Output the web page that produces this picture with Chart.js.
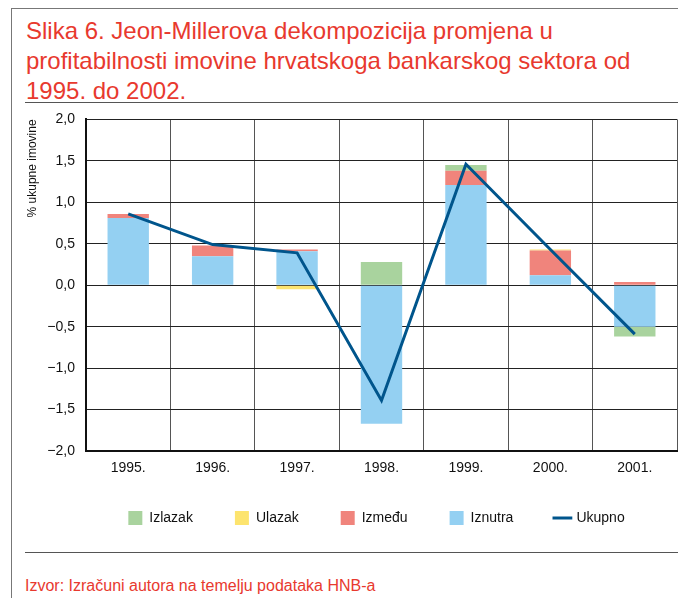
<!DOCTYPE html>
<html>
<head>
<meta charset="utf-8">
<script src="https://cdn.jsdelivr.net/npm/chart.js@4/dist/chart.umd.min.js"></script>
<style>
  html, body { margin: 0; padding: 0; background: #fff; }
  body { width: 678px; height: 598px; position: relative; overflow: hidden;
         font-family: "Liberation Sans", Arial, sans-serif; }
  .frame { position: absolute; left: 11px; top: 8px; width: 700px; height: 600px;
           border-top: 1px solid #777; border-left: 1px solid #777; }
  .title { position: absolute; left: 26px; top: 16px; color: #e8392e;
           font-size: 24px; line-height: 30px; white-space: nowrap; }
  .rule { position: absolute; left: 25px; right: 0; height: 1px; background: #555; }
  .source { position: absolute; left: 25px; top: 577px; color: #e8392e;
            font-size: 16px; line-height: 18px; white-space: nowrap; }
  #chart-wrap { position: absolute; left: 12px; top: 100px; width: 666px; height: 450px; }
</style>
</head>
<body>
<div class="frame"></div>
<div class="title">Slika 6. Jeon-Millerova dekompozicija promjena u<br>profitabilnosti imovine hrvatskoga bankarskog sektora od<br>1995. do 2002.</div>
<div class="rule" style="top:102px"></div>
<div id="chart-wrap"><canvas id="chart" width="666" height="450"></canvas></div>
<div class="rule" style="top:552px"></div>
<div class="source">Izvor: Izračuni autora na temelju podataka HNB-a</div>

<script>
const years = ['1995.', '1996.', '1997.', '1998.', '1999.', '2000.', '2001.'];

// komponente (% ukupne imovine)
const iznutra = [0.81, 0.35, 0.41, -1.67, 1.21, 0.12, -0.50];
const izmedju = [0.05, 0.13, 0.02, 0, 0.17, 0.30, 0.04];
const ulazak  = [0, 0, -0.05, 0, 0, 0.01, 0];
const izlazak = [0, 0, 0, 0.28, 0.07, 0, -0.12];
const ukupno  = [0.86, 0.49, 0.39, -1.39, 1.46, 0.43, -0.59];

const yTicks = [-2, -1.5, -1, -0.5, 0, 0.5, 1, 1.5, 2];

const fmt = v => (v < 0 ? '\u2212' : '') + Math.abs(v).toFixed(1).replace('.', ',');

Chart.defaults.font.family = '"Liberation Sans", Arial, sans-serif';
Chart.defaults.color = '#111';

// legenda je centrirana prema području grafa i malo podignuta
const legendShift = {
  id: 'legendShift',
  afterLayout(chart) {
    const l = chart.legend;
    l.left += 32;
    l.right += 32;
    l.top -= 8;
    l.bottom -= 8;
  }
};

const bar = (label, data, color) => ({
  type: 'bar',
  label,
  data,
  backgroundColor: color,
  borderWidth: 0,
  pointStyle: 'rect',
  stack: 'komp',
  order: 1,
  barPercentage: 0.49,
  categoryPercentage: 1,
});

new Chart(document.getElementById('chart'), {
  data: {
    labels: years,
    datasets: [
      {
        type: 'line',
        label: 'Ukupno',
        data: ukupno,
        borderColor: '#00558c',
        backgroundColor: '#00558c',
        borderWidth: 3,
        pointRadius: 0,
        pointStyle: 'line',
        tension: 0,
        stack: 'ukupno',
        order: 0,
      },
      bar('Iznutra', iznutra, '#94d0f2'),
      bar('Između', izmedju, '#f0847c'),
      bar('Ulazak', ulazak, '#fde46e'),
      bar('Izlazak', izlazak, '#a9d39e'),
    ],
  },
  options: {
    responsive: false,
    animation: false,
    layout: { padding: { top: 8, right: 1, bottom: 7, left: 0 } },
    plugins: {
      tooltip: { enabled: false },
      legend: {
        position: 'bottom',
        reverse: true,
        labels: {
          usePointStyle: true,
          boxWidth: 16,
          boxHeight: 16,
          padding: 42,
          color: '#111',
          font: { size: 14 },
        },
      },
    },
    scales: {
      x: {
        stacked: true,
        grid: { color: '#555', lineWidth: 1, drawTicks: false },
        border: { color: '#111', width: 2 },
        ticks: { padding: 9, font: { size: 14 }, color: '#111' },
        afterFit: s => { s.height = 26; },
      },
      y: {
        stacked: true,
        min: -2,
        max: 2,
        afterBuildTicks: s => { s.ticks = yTicks.map(v => ({ value: v })); },
        grid: { color: '#222', lineWidth: 1, drawTicks: false },
        border: { color: '#111', width: 2 },
        ticks: { padding: 11, font: { size: 14 }, color: '#111', callback: fmt },
        title: {
          display: true,
          text: '% ukupne imovine',
          align: 'end',
          font: { size: 12 },
          color: '#111',
          padding: { top: 13, bottom: 0 },
        },
        afterFit: s => { s.width = 74; },
      },
    },
  },
  plugins: [legendShift],
});
</script>
</body>
</html>
